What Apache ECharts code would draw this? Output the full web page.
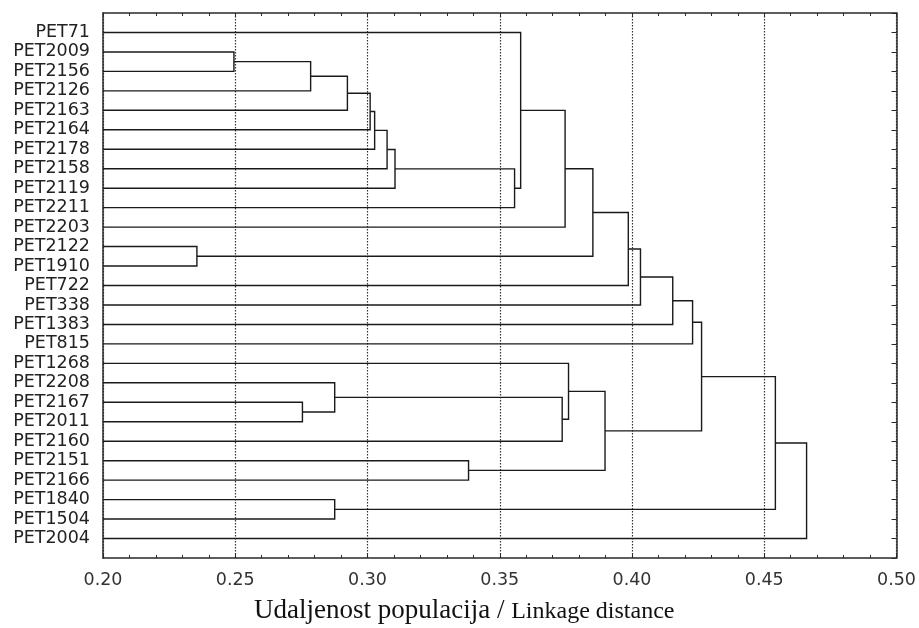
<!DOCTYPE html>
<html>
<head>
<meta charset="utf-8">
<script src="https://cdn.jsdelivr.net/npm/echarts@6/dist/echarts.min.js"></script>
<style>html,body{margin:0;padding:0;background:#fff;}#c{width:919px;height:628px;}</style>
</head>
<body>
<div id="c"></div>
<script>
// Leaves, top to bottom
const leaves = ['PET71','PET2009','PET2156','PET2126','PET2163','PET2164','PET2178','PET2158','PET2119','PET2211','PET2203','PET2122','PET1910','PET722','PET338','PET1383','PET815','PET1268','PET2208','PET2167','PET2011','PET2160','PET2151','PET2166','PET1840','PET1504','PET2004'];
// Merges (m1..m26): children and linkage distance
const mergeA = ['PET2009','m1','m2','m3','m4','m5','m6','m7','PET71','m9','PET2122','m10','m12','m13','m14','m15','PET2167','PET2208','PET1840','m18','PET1268','PET2151','m21','m16','m24','m25'];
const mergeB = ['PET2156','PET2126','PET2163','PET2164','PET2178','PET2158','PET2119','PET2211','m8','PET2203','PET1910','m11','PET722','PET338','PET1383','PET815','PET2011','m17','PET1504','PET2160','m20','PET2166','m22','m23','m19','PET2004'];
const mergeH = [0.2495,0.2785,0.2924,0.3010,0.3027,0.3074,0.3104,0.3556,0.3579,0.3747,0.2355,0.3852,0.3986,0.4032,0.4154,0.4229,0.2754,0.2876,0.2876,0.3736,0.3760,0.3382,0.3898,0.4263,0.4542,0.4660];
// Axis ticks
const xTicks = [0.20,0.25,0.30,0.35,0.40,0.45,0.50];

const pos = {}, hgt = {};
leaves.forEach((n,i)=>{pos[n]=i+1; hgt[n]=0;});
const segs = [];
mergeH.forEach((h,i)=>{
  const a=mergeA[i], b=mergeB[i], id='m'+(i+1);
  segs.push([h,pos[a],pos[b],hgt[a],hgt[b]]);
  pos[id]=(pos[a]+pos[b])/2; hgt[id]=h;
});

const chart = echarts.init(document.getElementById('c'));
const lblFont = 'DejaVu Sans';
const axLine = {show:true,onZero:false,lineStyle:{color:'#2a2a2a',width:1.5}};
chart.setOption({
  backgroundColor:'#fff',
  animation:false,
  grid:{left:103,right:20,top:13,bottom:70,containLabel:false},
  xAxis:[{
    type:'value',position:'bottom',min:xTicks[0],max:xTicks[xTicks.length-1],interval:0.05,
    axisLine:axLine,
    axisTick:{show:true,inside:true,length:4,lineStyle:{color:'#2a2a2a'}},
    minorTick:{show:true,splitNumber:5,length:3,lineStyle:{color:'#2a2a2a'}},
    splitLine:{show:true,lineStyle:{type:[1.5,1.5],color:'#333',width:1.2}},
    axisLabel:{formatter:v=>v.toFixed(2),fontFamily:lblFont,fontSize:17.5,color:'#333',margin:13}
  },{
    type:'value',position:'top',min:xTicks[0],max:xTicks[xTicks.length-1],interval:0.05,
    axisLine:axLine,
    axisTick:{show:true,inside:true,length:4,lineStyle:{color:'#2a2a2a'}},
    minorTick:{show:true,splitNumber:5,length:3,lineStyle:{color:'#2a2a2a'}},
    splitLine:{show:false},axisLabel:{show:false}
  }],
  yAxis:[{
    type:'value',position:'left',min:0,max:leaves.length+1,interval:1,inverse:true,
    axisLine:axLine,axisTick:{show:false},splitLine:{show:false},
    axisLabel:{formatter:v=>leaves[v-1]||'',fontFamily:lblFont,fontSize:17.5,color:'#222',margin:13}
  },{
    type:'value',position:'right',min:0,max:leaves.length+1,interval:1,inverse:true,
    axisLine:axLine,axisTick:{show:true,inside:true,length:5,lineStyle:{color:'#2a2a2a'}},
    splitLine:{show:false},axisLabel:{show:false}
  }],
  graphic:[{
    type:'text',left:254,top:597,
    style:{
      text:'{a|Udaljenost populacija / }{b|Linkage distance}',
      rich:{
        a:{fontFamily:'Liberation Serif',fontSize:27,fill:'#111',verticalAlign:'bottom',lineHeight:30},
        b:{fontFamily:'Liberation Serif',fontSize:24,fill:'#111',verticalAlign:'bottom',lineHeight:30}
      }
    }
  }],
  series:[{
    type:'custom',clip:true,
    encode:{x:[0,3,4],y:[1,2]},
    data:segs,
    renderItem:(params,api)=>{
      const p1=api.coord([api.value(3),api.value(1)]);
      const p2=api.coord([api.value(0),api.value(1)]);
      const p3=api.coord([api.value(0),api.value(2)]);
      const p4=api.coord([api.value(4),api.value(2)]);
      return {type:'polyline',shape:{points:[p1,p2,p3,p4]},style:{stroke:'#1a1a1a',lineWidth:1.4,fill:null}};
    }
  }]
});
</script>
</body>
</html>
